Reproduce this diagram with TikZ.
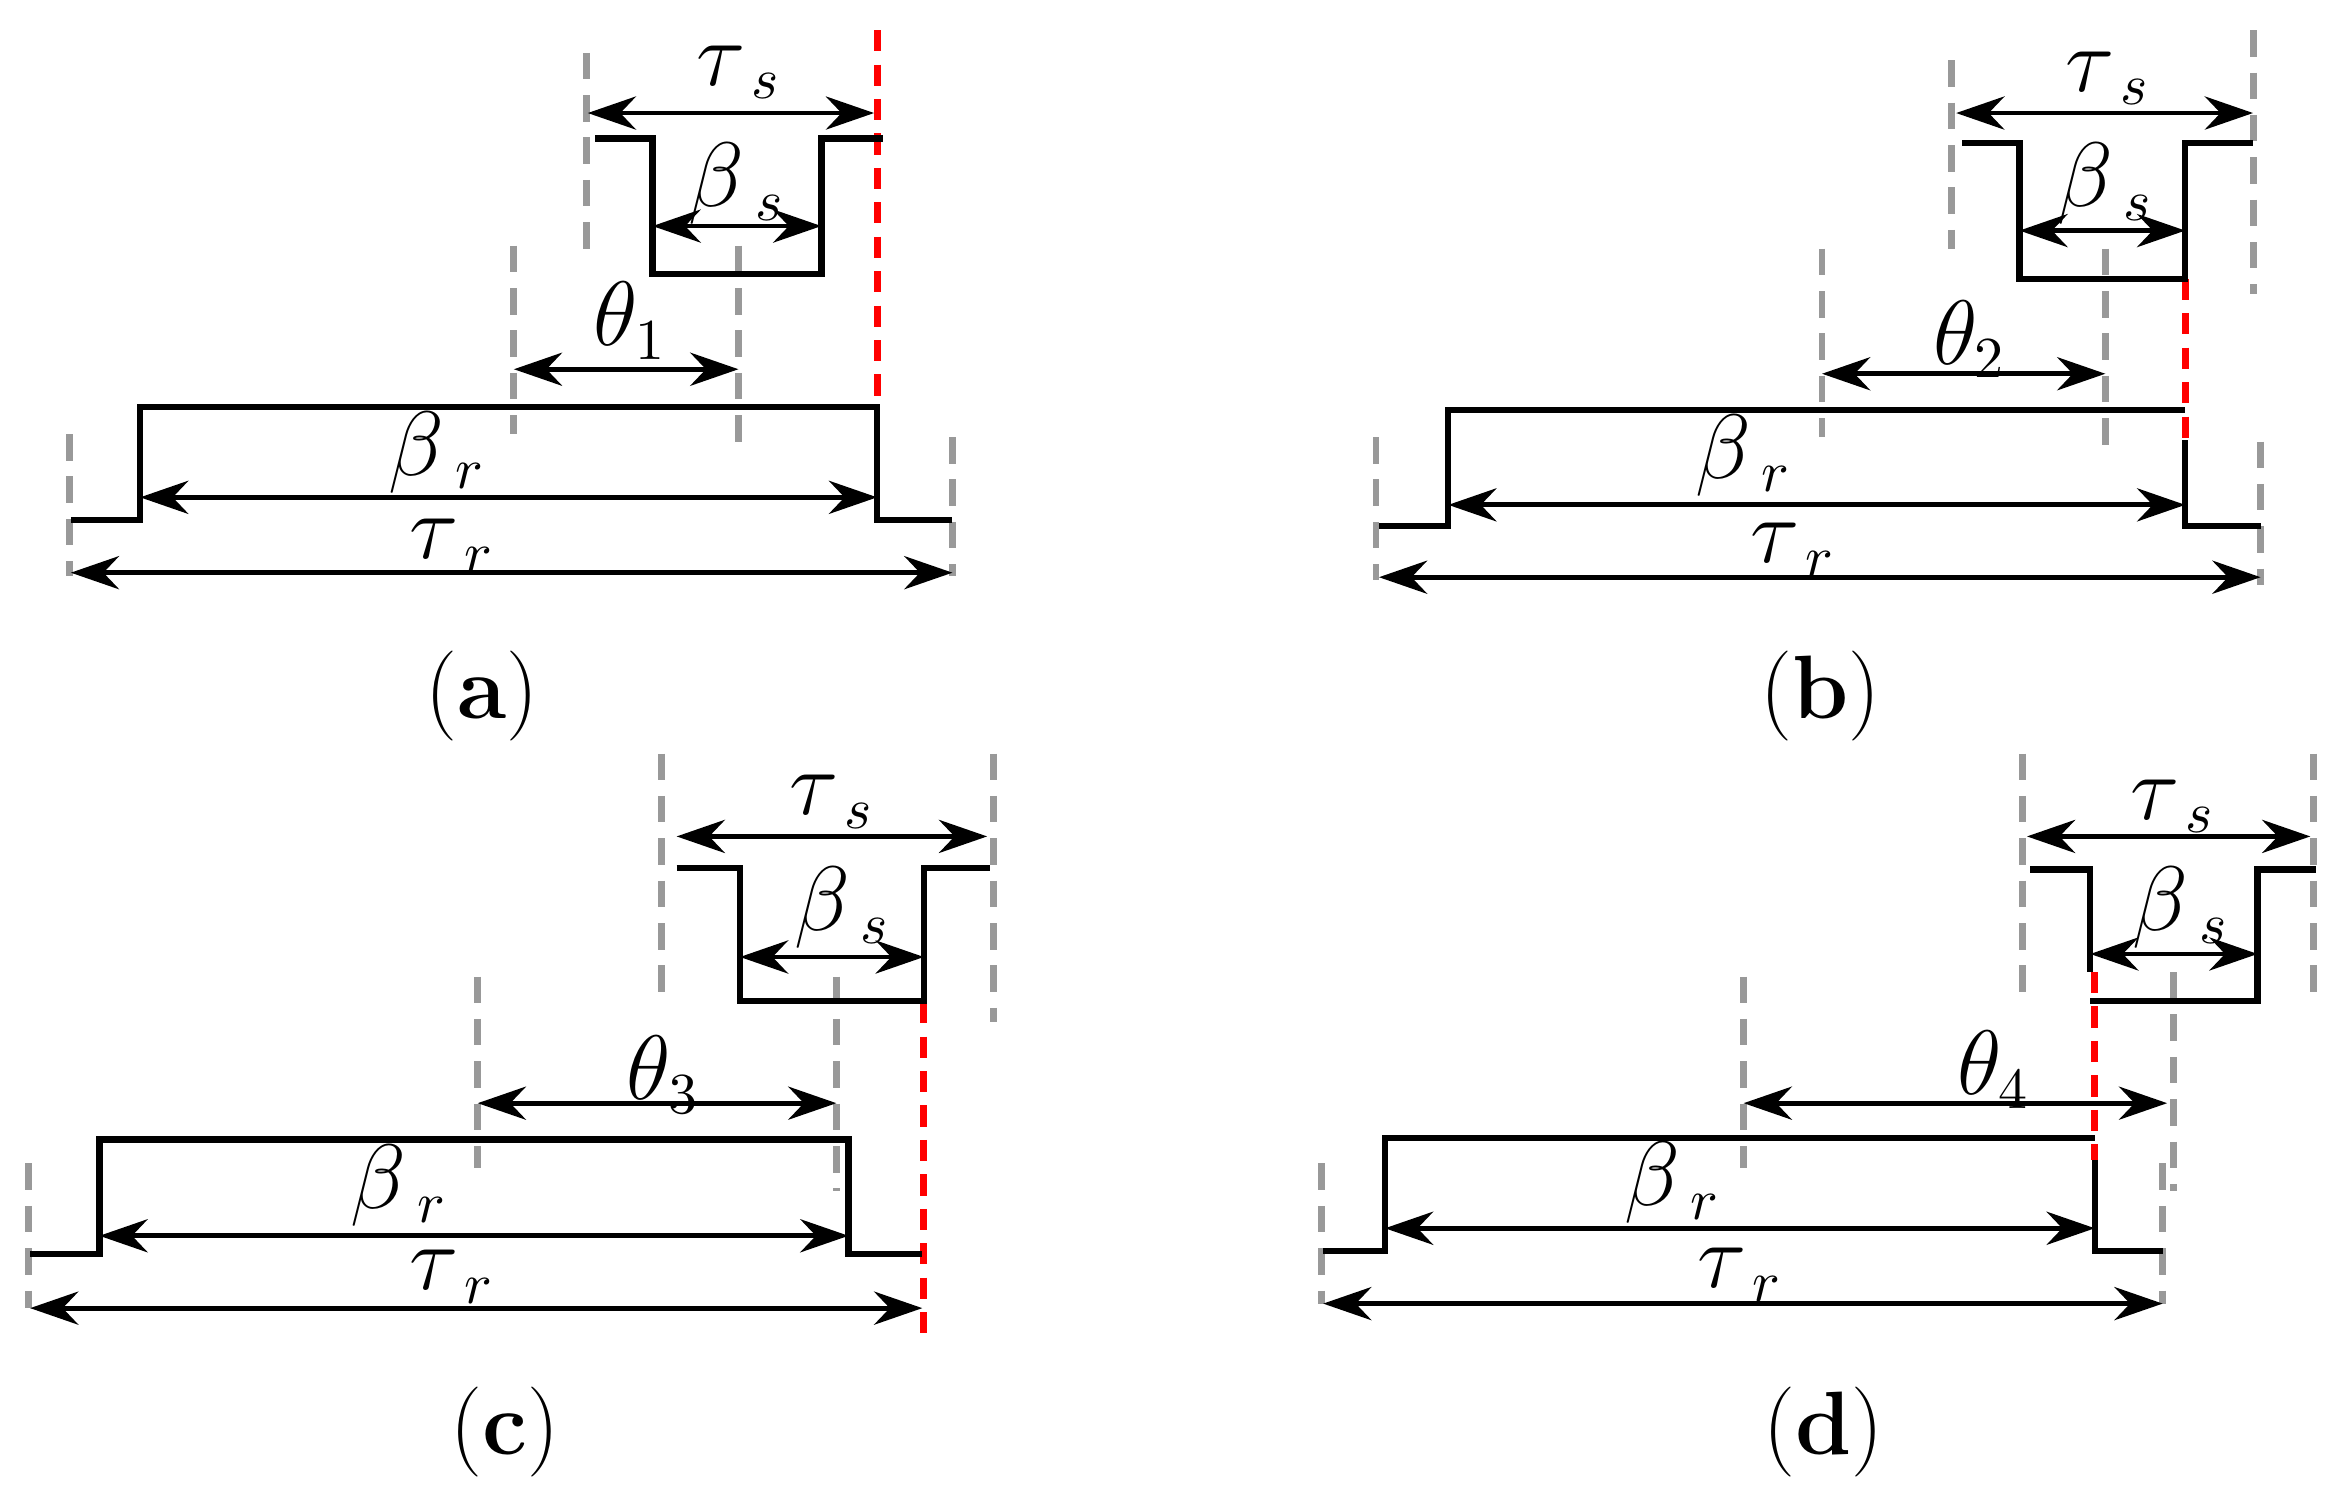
\documentclass[tikz,border=0pt]{standalone}
\usepackage{fontspec}
\usetikzlibrary{arrows.meta}
\begin{document}
\begin{tikzpicture}[x=0.1mm,y=-0.1mm,
 wall/.style={line width=1.2pt,black},
 gd/.style={line width=1.3pt,gray!80,dash pattern=on 5pt off 3pt},
 rd/.style={line width=1.3pt,red,dash pattern=on 4pt off 2.5pt},
 dim/.style={line width=0.9pt,{Stealth[length=3.2mm,width=2.2mm]}-{Stealth[length=3.2mm,width=2.2mm]}},
 lab/.style={font=\fontsize{16}{18}\selectfont,inner sep=0,fill=white,fill opacity=0,text opacity=1},
 capt/.style={font=\fontsize{17}{19}\selectfont,inner sep=0}]
\useasboundingbox (0,0) rectangle (1560,989);
% ---------- (a)
\draw[gd] (46,288)--(46,382); \draw[gd] (632,290)--(632,382);
\draw[gd] (341,163)--(341,288); \draw[gd] (490,163)--(490,302);
\draw[gd] (389,35)--(389,170);
\draw[rd] (582,20)--(582,270);
\draw[wall] (47,345)--(93,345)--(93,270)--(582,270)--(582,345)--(632,345);
\draw[wall] (395,92)--(433,92)--(433,182)--(545,182)--(545,92)--(586,92);
\draw[dim] (390,75)--(580,75); \node[lab] (ats) at (490,48) {$\tau_{\;s}$};
\draw[dim] (433,150)--(545,150); \node[lab] (abs) at (489,122) {$\beta_{\;s}$};
\draw[dim] (341,245)--(490,245); \node[lab] (ath) at (418,213) {$\theta_1$};
\draw[dim] (93,330)--(582,330); \node[lab] (abr) at (290,300) {$\beta_{\;r}$};
\draw[dim] (47,380)--(632,380); \node[lab] (atr) at (300,362) {$\tau_{\;r}$};
\node[capt] (ca) at (320,462) {(\textbf{a})};
% ---------- (b)
\draw[gd] (913,290)--(913,385); \draw[gd] (1500,293)--(1500,388);
\draw[gd] (1209,165)--(1209,290); \draw[gd] (1397,165)--(1397,305);
\draw[gd] (1295,40)--(1295,165); \draw[gd] (1495,20)--(1495,195);
\draw[rd] (1450,185)--(1450,292);
\draw[wall] (915,349)--(961,349)--(961,272)--(1450,272);
\draw[wall] (1450,292)--(1450,349)--(1500,349);
\draw[wall] (1302,95)--(1340,95)--(1340,185)--(1450,185)--(1450,95)--(1495,95);
\draw[dim] (1298,75)--(1495,75); \node[lab] (bts) at (1399,52) {$\tau_{\;s}$};
\draw[dim] (1340,153)--(1450,153); \node[lab] (bbs) at (1397,122) {$\beta_{\;s}$};
\draw[dim] (1209,248)--(1397,248); \node[lab] (bth) at (1307,225) {$\theta_2$};
\draw[dim] (961,335)--(1450,335); \node[lab] (bbr) at (1157,302) {$\beta_{\;r}$};
\draw[dim] (915,383)--(1500,383); \node[lab] (btr) at (1190,365) {$\tau_{\;r}$};
\node[capt] (cb) at (1208,462) {(\textbf{b})};
% ---------- (c)
\draw[gd] (19,772)--(19,868); \draw[gd] (317,648)--(317,775);
\draw[gd] (555,648)--(555,790); \draw[gd] (439,500)--(439,662);
\draw[gd] (659,500)--(659,678);
\draw[rd] (613,665)--(613,893);
\draw[wall] (20,832)--(66,832)--(66,756)--(563,756)--(563,832)--(612,832);
\draw[wall] (449,576)--(491,576)--(491,664)--(613,664)--(613,576)--(657,576);
\draw[dim] (449,555)--(655,555); \node[lab] (cts) at (552,532) {$\tau_{\;s}$};
\draw[dim] (491,635)--(613,635); \node[lab] (cbs) at (559,602) {$\beta_{\;s}$};
\draw[dim] (317,732)--(555,732); \node[lab] (cth) at (440,713) {$\theta_3$};
\draw[dim] (66,820)--(563,820); \node[lab] (cbr) at (265,787) {$\beta_{\;r}$};
\draw[dim] (20,868)--(612,868); \node[lab] (ctr) at (300,847) {$\tau_{\;r}$};
\node[capt] (cc) at (335,950) {(\textbf{c})};
% ---------- (d)
\draw[gd] (877,772)--(877,865); \draw[gd] (1435,772)--(1435,865);
\draw[gd] (1442,645)--(1442,790); \draw[gd] (1157,648)--(1157,775);
\draw[gd] (1342,500)--(1342,662); \draw[gd] (1535,500)--(1535,665);
\draw[rd] (1390,645)--(1390,770);
\draw[wall] (878,830)--(919,830)--(919,755)--(1390,755);
\draw[wall] (1390,770)--(1390,830)--(1435,830);
\draw[wall] (1347,577)--(1387,577)--(1387,645); \draw[wall] (1387,664)--(1498,664)--(1498,577)--(1537,577);
\draw[dim] (1345,555)--(1533,555); \node[lab] (dts) at (1442,535) {$\tau_{\;s}$};
\draw[dim] (1387,633)--(1498,633); \node[lab] (dbs) at (1447,602) {$\beta_{\;s}$};
\draw[dim] (1157,732)--(1438,732); \node[lab] (dth) at (1323,710) {$\theta_4$};
\draw[dim] (919,815)--(1390,815); \node[lab] (dbr) at (1110,785) {$\beta_{\;r}$};
\draw[dim] (878,865)--(1435,865); \node[lab] (dtr) at (1155,846) {$\tau_{\;r}$};
\node[capt] (cd) at (1210,950) {(\textbf{d})};
\end{tikzpicture}
\end{document}
